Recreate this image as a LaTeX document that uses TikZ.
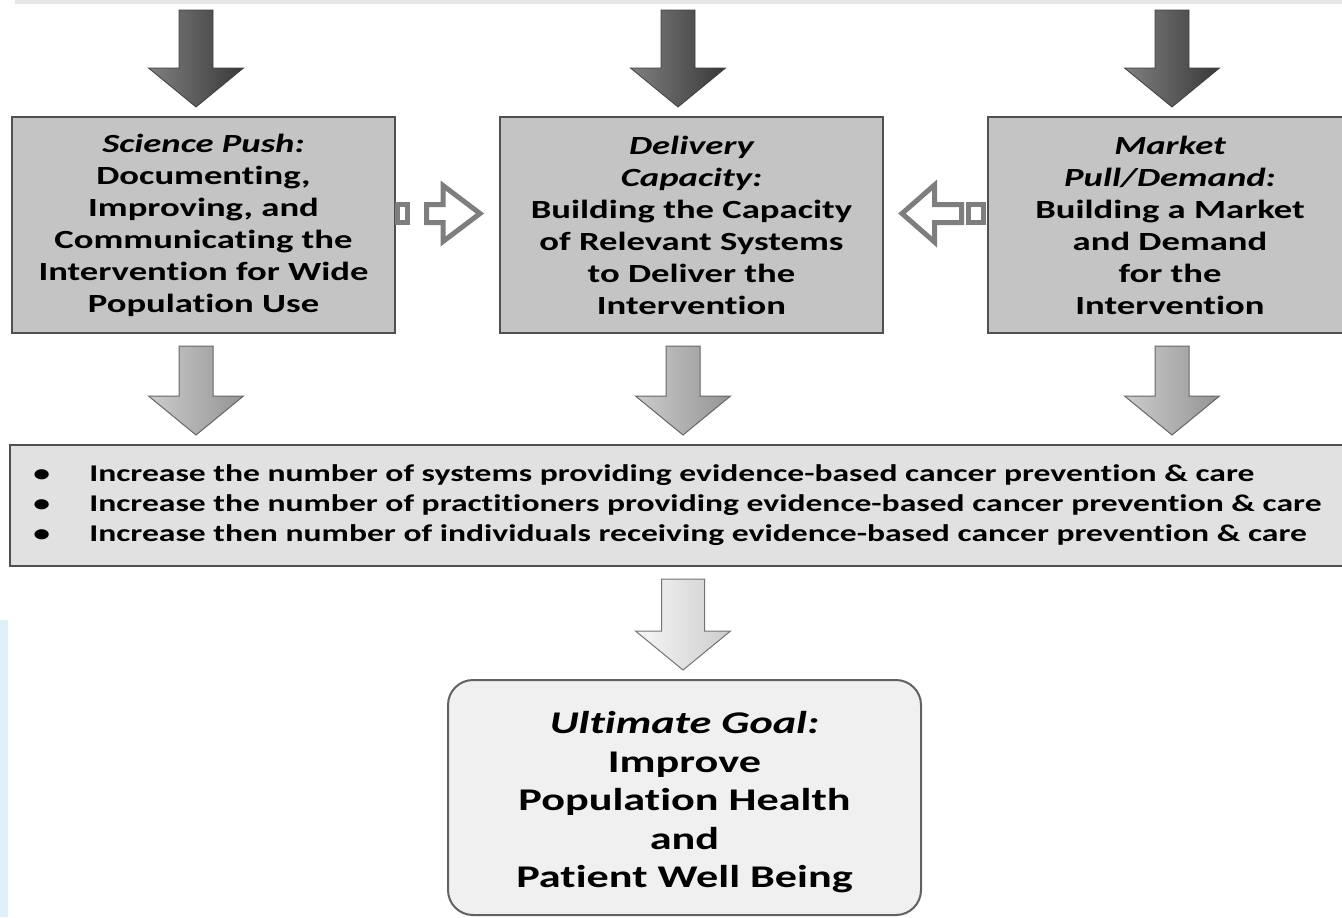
\documentclass[tikz,border=0pt]{standalone}
\usepackage{fontspec}
\setmainfont{Carlito}[FakeStretch=1.4, Ligatures=NoCommon]
\usetikzlibrary{calc,positioning}

\definecolor{boxgray}{HTML}{C4C4C4}
\definecolor{edgegray}{HTML}{505050}
\definecolor{listgray}{HTML}{E1E1E1}
\definecolor{goalgray}{HTML}{F0F0F0}
\definecolor{hollowgray}{HTML}{7E7E7E}
\definecolor{bandgray}{HTML}{E6E6E6}
\definecolor{stripblue}{HTML}{DFF0F8}

% 斜体小标题
\newcommand{\headit}[1]{{\itshape #1}}

% 向下的块状箭头：#1 半宽, #2 样式, #3 x 位置, #4 起点, #5 终点
\newcommand{\blockdown}[5][8.5pt]{%
  \path[#2] let \p1=(#3), \p2=(#4), \p3=(#5) in
    (\x1-#1,\y2-6pt) -- (\x1+#1,\y2-6pt) -- (\x1+#1,\y3+24pt) -- (\x1+23.75pt,\y3+24pt)
    -- (\x1,\y3+4.5pt) -- (\x1-23.75pt,\y3+24pt) -- (\x1-#1,\y3+24pt) -- cycle;}

\begin{document}
\begin{tikzpicture}[x=0.5pt, y=-0.5pt,
    box/.style={draw=edgegray, line width=1pt, fill=boxgray, minimum height=108pt,
      align=center, font=\fontsize{13.1}{16}\selectfont\bfseries},
    listbox/.style={draw=edgegray, line width=1pt, fill=listgray, minimum width=671pt, minimum height=60.5pt},
    goalbox/.style={draw=edgegray!90, line width=1pt, fill=goalgray, rounded corners=12.5pt,
      minimum width=236.5pt, minimum height=117.5pt},
    goaltext/.style={align=center, font=\fontsize{15.8}{19.25}\selectfont\bfseries},
    darkarrow/.style={draw=black!75, line width=0.4pt, left color=black!50, right color=black!78},
    midarrow/.style={draw=black!60, line width=0.5pt, left color=black!20, right color=black!42},
    lightarrow/.style={draw=black!55, line width=0.5pt, left color=black!3, right color=black!20},
    hollow/.style={draw=hollowgray, line width=2.5pt, fill=white, line join=miter}]

  \useasboundingbox (0,0) rectangle (1342,917);
  \clip (0,0) rectangle (1342,917);

  % 背景：顶部灰条和左侧浅蓝条
  \fill[bandgray] (15,0) rectangle (1342,4);
  \fill[stripblue] (0,620) rectangle (8,917);
  \coordinate (top) at (0,-2);

  % 三个方框
  \node[box, minimum width=191.5pt] (sci) at (203.5,225)
    {\headit{Science Push:}\\ Documenting,\\ Improving, and\\ Communicating the\\ Intervention for Wide\\ Population Use};
  \node[box, minimum width=191.5pt] (deliv) at (691.5,225)
    {\headit{Delivery}\\ \headit{Capacity:}\\ Building the Capacity\\ of Relevant Systems\\ to Deliver the\\ Intervention};
  \node[box, minimum width=182pt] (mkt) at (1170,225)
    {\headit{Market}\\ \headit{Pull/Demand:}\\ Building a Market\\ and Demand\\ for the\\ Intervention};

  % 结果列表
  \node[listbox] (list) at (681,505.5) {};
  \node[anchor=west, align=left, inner sep=0pt, font=\fontsize{12}{15}\selectfont\bfseries]
    (items) at ([xshift=12pt]list.west)
    {\makebox[28pt][l]{\textbullet}Increase the number of systems providing evidence-based cancer prevention \& care\\
     \makebox[28pt][l]{\textbullet}Increase the number of practitioners providing evidence-based cancer prevention \& care\\
     \makebox[28pt][l]{\textbullet}Increase then number of individuals receiving evidence-based cancer prevention \& care};

  % 最终目标
  \node[goalbox] (goal) at (684.5,797.5) {};
  \node[goaltext] (goalText) at ([yshift=-2.5pt]goal.center)
    {\headit{Ultimate Goal:}\\ Improve\\ Population Health\\ and\\ Patient Well Being};

  % 箭头的 x 位置
  \coordinate (x1) at (196,0);
  \coordinate (x2) at (678,0);
  \coordinate (x3) at (1172,0);
  \coordinate (m2) at (683,0);

  % 顶部深色箭头
  \blockdown{darkarrow}{x1}{top}{sci.north}
  \blockdown{darkarrow}{x2}{top}{deliv.north}
  \blockdown{darkarrow}{x3}{top}{mkt.north}

  % 中间箭头
  \blockdown{midarrow}{x1}{sci.south}{list.north}
  \blockdown{midarrow}{m2}{deliv.south}{list.north}
  \blockdown{midarrow}{x3}{mkt.south}{list.north}

  % 底部浅色箭头
  \blockdown[10.75pt]{lightarrow}{m2}{list.south}{goal.north}

  % 空心侧向箭头
  \begin{scope}[shift={(sci.east)}]
    \draw[hollow] (1.5,-20.5) rectangle (11.5,-2.5);
    \draw[hollow] (30.5,-20.5) -- (47,-20.5) -- (47,-39.5) -- (84,-11.5)
      -- (47,16.5) -- (47,-2.5) -- (30.5,-2.5) -- cycle;
  \end{scope}
  \begin{scope}[shift={(mkt.west)}]
    \draw[hollow] (-18.5,-20.5) rectangle (-3.5,-2.5);
    \draw[hollow] (-25.5,-20.5) -- (-52.5,-20.5) -- (-52.5,-40) -- (-85,-11.5)
      -- (-52.5,17) -- (-52.5,-2.5) -- (-25.5,-2.5) -- cycle;
  \end{scope}
\end{tikzpicture}
\end{document}
